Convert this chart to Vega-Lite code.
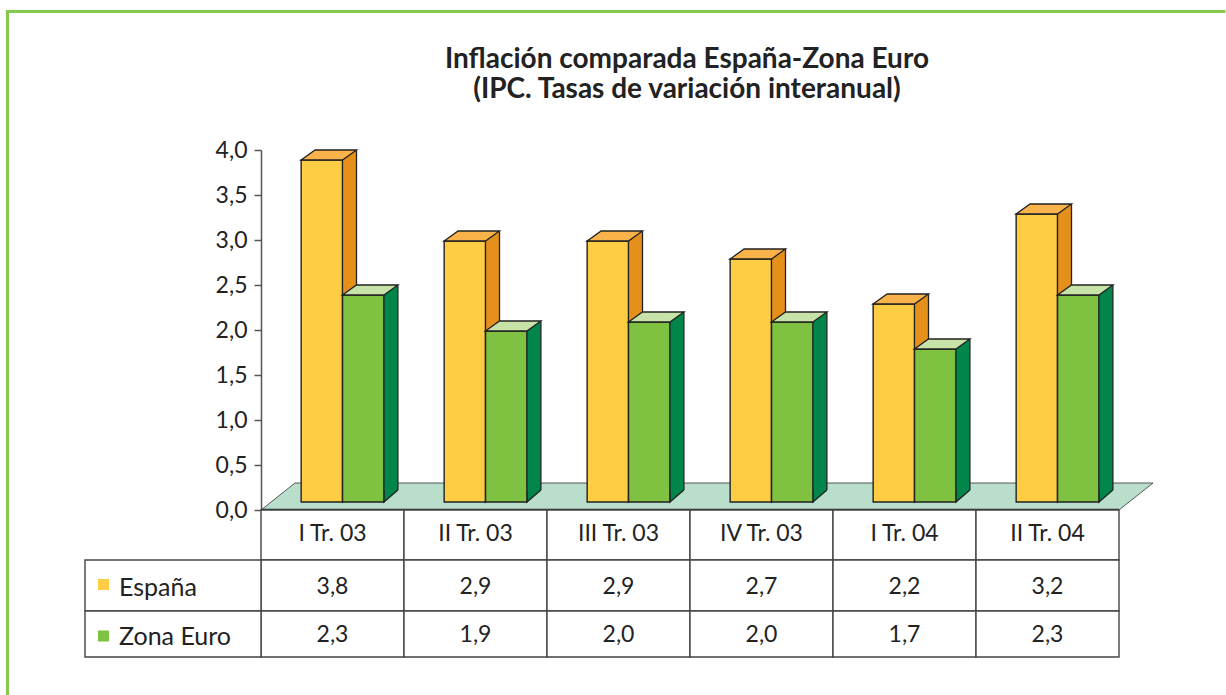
{
"$schema":"https://vega.github.io/schema/vega-lite/v6.json",
"background":"white",
"padding":{"left":1,"top":5,"right":0,"bottom":0},
"bounds":"flush",
"spacing":0,
"config":{"view":{"stroke":null},"font":"Lato","text":{"font":"Lato","fontSize":23,"fill":"#222222"},"concat":{"spacing":0}},
"datasets":{"d":[
{"periodo":"I Tr. 03","serie":"España","valor":3.8},
{"periodo":"I Tr. 03","serie":"Zona Euro","valor":2.3},
{"periodo":"II Tr. 03","serie":"España","valor":2.9},
{"periodo":"II Tr. 03","serie":"Zona Euro","valor":1.9},
{"periodo":"III Tr. 03","serie":"España","valor":2.9},
{"periodo":"III Tr. 03","serie":"Zona Euro","valor":2.0},
{"periodo":"IV Tr. 03","serie":"España","valor":2.7},
{"periodo":"IV Tr. 03","serie":"Zona Euro","valor":2.0},
{"periodo":"I Tr. 04","serie":"España","valor":2.2},
{"periodo":"I Tr. 04","serie":"Zona Euro","valor":1.7},
{"periodo":"II Tr. 04","serie":"España","valor":3.2},
{"periodo":"II Tr. 04","serie":"Zona Euro","valor":2.3}
]},
"vconcat":[
{
"width":858,"height":360,
"data":{"name":"d"},
"encoding":{
"x":{"field":"periodo","type":"nominal","sort":null,"scale":{"domain":["I Tr. 03","II Tr. 03","III Tr. 03","IV Tr. 03","I Tr. 04","II Tr. 04"],"paddingInner":0,"paddingOuter":0,"range":[10,868]},"axis":null},
"y":{"field":"valor","type":"quantitative","scale":{"domain":[0,4],"nice":false},"axis":{"title":null,"values":[0,0.5,1,1.5,2,2.5,3,3.5,4],"labelExpr":"replace(format(datum.value,'.1f'),'.',',')","labelFont":"Lato","labelFontSize":23,"labelColor":"#222222","labelPadding":7,"tickSize":7,"tickColor":"#555555","tickWidth":1.5,"domainColor":"#555555","domainWidth":1.5,"grid":false}}
},
"layer":[
{"transform":[{"filter":"datum.periodo==='I Tr. 03'&&datum.serie==='España'"}],"mark":{"type":"point","filled":false,"size":4,"stroke":"#86C94F","strokeWidth":3,"opacity":1,"shape":"M-335,546V-138.5H883"},"encoding":{"y":{"datum":4}}},
{"transform":[{"filter":"datum.periodo==='I Tr. 03'&&datum.serie==='España'"}],"mark":{"type":"text","text":["Inflación comparada España-Zona Euro","(IPC. Tasas de variación interanual)"],"font":"Lato","fontSize":28,"fontWeight":"bold","fill":"#222222","align":"center","baseline":"middle","lineHeight":30,"xOffset":344.5,"yOffset":-90},"encoding":{"y":{"datum":4}}},
{"transform":[{"filter":"datum.periodo==='I Tr. 03'&&datum.serie==='España'"}],"mark":{"type":"point","filled":true,"size":4,"fill":"#B9DFCC","stroke":"#333333","strokeWidth":0.8,"opacity":1,"shape":"M-81.5,0L-47.5,-27L810.5,-27L776.5,0Z"},"encoding":{"y":{"datum":0}}},
{"transform":[{"filter":"datum.periodo==='I Tr. 03'&&datum.serie==='España'"}],"mark":{"type":"point","filled":false,"size":4,"stroke":"#222222","strokeWidth":2.5,"opacity":1,"shape":"M-81.5,0H776.5"},"encoding":{"y":{"datum":0}}},
{"mark":{"type":"bar","width":41.3,"xOffset":{"expr":"(datum.serie==='España'?-20.7:20.7)+14"},"yOffset":-18,"y2Offset":-20,"fill":{"expr":"datum.serie==='España'?'#E5901A':'#00854A'"}},"encoding":{"y2":{"datum":0}}},
{"mark":{"type":"point","filled":true,"size":4,"opacity":1,"xOffset":{"expr":"datum.serie==='España'?-20.7:20.7"},"yOffset":-8,"strokeWidth":1.3,"stroke":"#222222","fill":{"expr":"datum.serie==='España'?'#E5901A':'#00854A'"},"shape":"M34.7,-12L20.7,0L20.7,-12"},"encoding":{"y":{"datum":0}}},
{"mark":{"type":"rule","xOffset":{"expr":"(datum.serie==='España'?-20.7:20.7)+34.7"},"yOffset":-18,"y2Offset":-20,"stroke":"#222222","strokeWidth":1.3},"encoding":{"y2":{"datum":0}}},
{"mark":{"type":"bar","width":41.3,"xOffset":{"expr":"datum.serie==='España'?-20.7:20.7"},"yOffset":-8,"y2Offset":-8,"stroke":"#222222","strokeWidth":1.4,"fill":{"expr":"datum.serie==='España'?'#FFCD44':'#7FC241'"}},"encoding":{"y2":{"datum":0}}},
{"mark":{"type":"point","filled":true,"size":4,"opacity":1,"xOffset":{"expr":"datum.serie==='España'?-20.7:20.7"},"yOffset":-8,"strokeWidth":1.3,"stroke":"#222222","fill":{"expr":"datum.serie==='España'?'#FAB24A':'#C8E3A8'"},"shape":"M-20.7,0L-6.7,-10L34.7,-10L20.7,0Z"}}
]
},
{
"width":858,"height":50,
"data":{"name":"d"},
"transform":[{"filter":"datum.serie==='España'"}],
"encoding":{"x":{"field":"periodo","type":"nominal","sort":null,"scale":{"paddingInner":0,"paddingOuter":0},"axis":null}},
"layer":[
{"mark":{"type":"rect","fill":"white","stroke":"#444444","strokeWidth":1.4}},
{"mark":{"type":"text","yOffset":-1},"encoding":{"text":{"field":"periodo"}}}
]
},
{
"width":858,"height":51,
"data":{"name":"d"},
"transform":[{"filter":"datum.serie==='España'"}],
"encoding":{"x":{"field":"periodo","type":"nominal","sort":null,"scale":{"paddingInner":0,"paddingOuter":0},"axis":null}},
"layer":[
{"mark":{"type":"rect","fill":"white","stroke":"#444444","strokeWidth":1.4}},
{"transform":[{"filter":"datum.periodo==='I Tr. 03'"}],"mark":{"type":"point","filled":true,"size":4,"opacity":1,"fill":"white","stroke":"#444444","strokeWidth":1.4,"shape":"M-247.5,-25.5H-71.5V25.5H-247.5Z"}},
{"transform":[{"filter":"datum.periodo==='I Tr. 03'"}],"mark":{"type":"point","shape":"square","filled":true,"size":121,"opacity":1,"fill":"#FFCD44","xOffset":-229,"yOffset":-1}},
{"transform":[{"filter":"datum.periodo==='I Tr. 03'"}],"mark":{"type":"text","fontSize":25,"align":"left","xOffset":-213.5,"yOffset":2},"encoding":{"text":{"field":"serie"}}},
{"mark":{"type":"text","text":{"expr":"replace(format(datum.valor,'.1f'),'.',',')"},"yOffset":1}}
]
},
{
"width":858,"height":46,
"data":{"name":"d"},
"transform":[{"filter":"datum.serie==='Zona Euro'"}],
"encoding":{"x":{"field":"periodo","type":"nominal","sort":null,"scale":{"paddingInner":0,"paddingOuter":0},"axis":null}},
"layer":[
{"mark":{"type":"rect","fill":"white","stroke":"#444444","strokeWidth":1.4}},
{"transform":[{"filter":"datum.periodo==='I Tr. 03'"}],"mark":{"type":"point","filled":true,"size":4,"opacity":1,"fill":"white","stroke":"#444444","strokeWidth":1.4,"shape":"M-247.5,-23H-71.5V23H-247.5Z"}},
{"transform":[{"filter":"datum.periodo==='I Tr. 03'"}],"mark":{"type":"point","shape":"square","filled":true,"size":121,"opacity":1,"fill":"#7FC241","xOffset":-229,"yOffset":2}},
{"transform":[{"filter":"datum.periodo==='I Tr. 03'"}],"mark":{"type":"text","fontSize":25,"align":"left","xOffset":-213.5,"yOffset":3},"encoding":{"text":{"field":"serie"}}},
{"mark":{"type":"text","text":{"expr":"replace(format(datum.valor,'.1f'),'.',',')"},"yOffset":1}}
]
}
]
}
